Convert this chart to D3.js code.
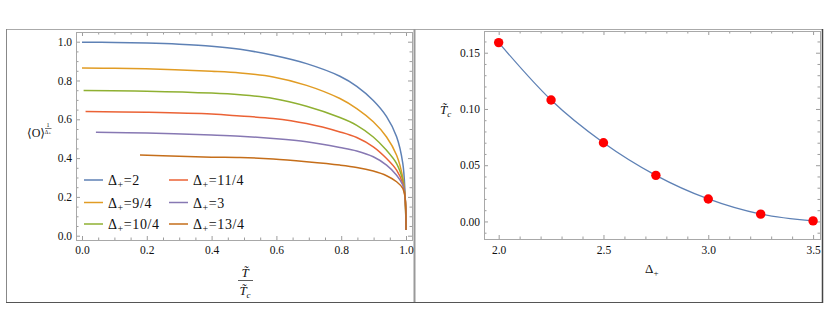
<!DOCTYPE html>
<html>
<head>
<meta charset="utf-8">
<script src="https://cdn.jsdelivr.net/npm/d3@7/dist/d3.min.js"></script>
<style>
  body { margin: 0; background: #fff; }
  svg, svg text { font-family: "Liberation Serif", "Times New Roman", "DejaVu Serif", serif !important; }
</style>
</head>
<body>
<div id="chart"></div>
<script>
// left panel: condensate curves, [T/Tc, <O>^(1/Δ+)]
var seriesNames = ["2", "9/4", "10/4", "11/4", "3", "13/4"];
var seriesColors = ["#5e81b5", "#e19c24", "#8fb032", "#eb6235", "#8778b3", "#c56e1a"];

var curveD2 = [[0,0.997],[0.1,0.996],[0.2,0.993],[0.3,0.987],[0.4,0.977],[0.488,0.961],[0.59,0.930],[0.693,0.887],[0.796,0.822],[0.848,0.770],[0.899,0.697],[0.94,0.614],[0.971,0.510],[0.99,0.374],[0.997,0.22],[1.0,0.03]];
var curveD94 = [[0,0.864],[0.1,0.863],[0.287,0.856],[0.4,0.848],[0.488,0.839],[0.59,0.818],[0.693,0.775],[0.796,0.707],[0.848,0.655],[0.899,0.587],[0.94,0.509],[0.971,0.415],[0.99,0.30],[0.997,0.2],[1.0,0.03]];
var curveD104 = [[0.005,0.748],[0.2,0.745],[0.4,0.735],[0.488,0.726],[0.59,0.707],[0.693,0.667],[0.796,0.609],[0.848,0.569],[0.899,0.509],[0.94,0.44],[0.971,0.372],[0.99,0.286],[0.997,0.2],[1.0,0.03]];
var curveD114 = [[0.011,0.640],[0.2,0.636],[0.4,0.627],[0.488,0.617],[0.59,0.604],[0.693,0.578],[0.796,0.535],[0.848,0.506],[0.899,0.458],[0.94,0.398],[0.971,0.338],[0.99,0.269],[0.997,0.2],[1.0,0.03]];
var curveD3 = [[0.043,0.533],[0.2,0.529],[0.4,0.519],[0.488,0.513],[0.59,0.501],[0.693,0.484],[0.796,0.455],[0.848,0.437],[0.899,0.407],[0.94,0.364],[0.971,0.312],[0.99,0.261],[0.997,0.2],[1.0,0.03]];
var curveD134 = [[0.179,0.416],[0.3,0.41],[0.4,0.405],[0.488,0.403],[0.59,0.395],[0.693,0.381],[0.796,0.364],[0.848,0.352],[0.899,0.333],[0.94,0.309],[0.971,0.278],[0.99,0.244],[0.997,0.2],[1.0,0.03]];
var curves = [curveD2, curveD94, curveD104, curveD114, curveD3, curveD134];

// right panel: critical temperature vs Δ+
var deltas = [2.0, 2.25, 2.5, 2.75, 3.0, 3.25, 3.5];
var tcValues = [0.159, 0.108, 0.070, 0.041, 0.020, 0.0065, 0.0005];

var leftXTicks = [0, 0.2, 0.4, 0.6, 0.8, 1.0];
var leftYTicks = [0, 0.2, 0.4, 0.6, 0.8, 1.0];
var rightXTicks = [2.0, 2.5, 3.0, 3.5];
var rightYTicks = [0, 0.05, 0.10, 0.15];

var W = 830, H = 331;
var svg = d3.select("#chart").append("svg").attr("width", W).attr("height", H);
svg.append("rect").attr("width", W).attr("height", H).attr("fill", "#fff");

// outer frame + divider
svg.append("line").attr("x1", 6).attr("x2", 823).attr("y1", 29.5).attr("y2", 29.5).attr("stroke", "#aaa");
svg.append("line").attr("x1", 6.5).attr("x2", 6.5).attr("y1", 29).attr("y2", 302).attr("stroke", "#888");
svg.append("line").attr("x1", 6).attr("x2", 823).attr("y1", 302.5).attr("y2", 302.5).attr("stroke", "#555");
svg.append("line").attr("x1", 822.5).attr("x2", 822.5).attr("y1", 29).attr("y2", 303).attr("stroke", "#444").attr("stroke-width", 1.5);
svg.append("line").attr("x1", 414.5).attr("x2", 414.5).attr("y1", 29).attr("y2", 302).attr("stroke", "#999").attr("stroke-width", 2);

function minorTicks(lo, hi, step, majorStep) {
    var out = [];
    var n0 = Math.ceil(lo / step - 1e-6), n1 = Math.floor(hi / step + 1e-6);
    for (var i = n0; i <= n1; i++) {
        var v = i * step;
        var r = v / majorStep;
        if (Math.abs(r - Math.round(r)) > 1e-6) out.push(v);
    }
    return out;
}

function drawFrame(g, x, y, o) {
    var x0 = x.range()[0], x1 = x.range()[1], y0 = y.range()[0], y1 = y.range()[1];
    var xd = x.domain(), yd = y.domain();
    var xMin = minorTicks(xd[0], xd[1], o.xMinor, o.xMajor);
    var yMin = minorTicks(yd[0], yd[1], o.yMinor, o.yMajor);

    var axes = [
        [d3.axisBottom(x).tickValues(o.xTicks).tickFormat(o.xFmt).tickSize(-4).tickPadding(o.xPad), "translate(0," + y0 + ")"],
        [d3.axisBottom(x).tickValues(xMin).tickFormat("").tickSize(-2.5), "translate(0," + y0 + ")"],
        [d3.axisTop(x).tickValues(o.xTicks).tickFormat("").tickSize(-4), "translate(0," + y1 + ")"],
        [d3.axisTop(x).tickValues(xMin).tickFormat("").tickSize(-2.5), "translate(0," + y1 + ")"],
        [d3.axisLeft(y).tickValues(o.yTicks).tickFormat(o.yFmt).tickSize(-4).tickPadding(o.yPad), "translate(" + x0 + ",0)"],
        [d3.axisLeft(y).tickValues(yMin).tickFormat("").tickSize(-2.5), "translate(" + x0 + ",0)"],
        [d3.axisRight(y).tickValues(o.yTicks).tickFormat("").tickSize(-4), "translate(" + x1 + ",0)"],
        [d3.axisRight(y).tickValues(yMin).tickFormat("").tickSize(-2.5), "translate(" + x1 + ",0)"]
    ];
    axes.forEach(function (a) {
        var ax = g.append("g").attr("transform", a[1]).call(a[0]);
        ax.attr("font-family", null).attr("font-size", null);
        ax.select(".domain").remove();
        ax.selectAll(".tick line").attr("stroke", "#9c9c9c");
        ax.selectAll(".tick text").attr("fill", "#111").style("font-size", "11.5px")
            .attr("font-family", "Liberation Serif");
    });
    g.append("rect").attr("x", x0 + 0.5).attr("y", y1 + 0.5)
        .attr("width", x1 - x0).attr("height", y0 - y1)
        .attr("fill", "none").attr("stroke", "#a8a8a8");
}

// ---------- left panel ----------
var xL = d3.scaleLinear().domain([-0.0185, 1.0185]).range([76, 412]);
var yL = d3.scaleLinear().domain([-0.0222, 1.05]).range([240, 32]);
var left = svg.append("g");

curves.forEach(function (c, i) {
    left.append("path").datum(c).attr("d", d3.line()
            .x(function (d) { return xL(d[0]); }).y(function (d) { return yL(d[1]); })
            .curve(d3.curveCatmullRom.alpha(0.5)))
        .attr("fill", "none").attr("stroke", seriesColors[i]).attr("stroke-width", 1.5);
});

drawFrame(left, xL, yL, {
    xTicks: leftXTicks, yTicks: leftYTicks, xMajor: 0.2, xMinor: 0.05, yMajor: 0.2, yMinor: 0.05,
    xFmt: d3.format(".1f"), yFmt: d3.format(".1f"), xPad: 6, yPad: 4
});

// legend
var legCols = [84, 169], legRows = [180, 202.5, 224];
seriesNames.forEach(function (name, i) {
    var cx = legCols[Math.floor(i / 3)], cy = legRows[i % 3];
    left.append("line").attr("x1", cx).attr("x2", cx + 19).attr("y1", cy).attr("y2", cy)
        .attr("stroke", seriesColors[i]).attr("stroke-width", 1.5);
    var t = left.append("text").attr("x", cx + 24).attr("y", cy + 5)
        .style("font-size", "14px").style("letter-spacing", "0.6px").attr("fill", "#111");
    t.append("tspan").text("Δ");
    t.append("tspan").style("font-size", "10px").attr("dy", 3).text("+");
    t.append("tspan").attr("dy", -3).text("=" + name);
});

// y label <O>^(1/Δ+)
left.append("text").attr("x", 27).attr("y", 137).style("font-size", "12px").attr("fill", "#111").text("⟨O⟩");
left.append("text").attr("x", 48).attr("y", 127).style("font-size", "6px").attr("text-anchor", "middle").attr("fill", "#111").text("1");
left.append("line").attr("x1", 45).attr("x2", 51.5).attr("y1", 128.5).attr("y2", 128.5).attr("stroke", "#222").attr("stroke-width", 0.6);
left.append("text").attr("x", 48).attr("y", 134).style("font-size", "5.5px").attr("text-anchor", "middle").attr("fill", "#111").text("Δ₊");

// x label T/Tc
left.append("text").attr("x", 245).attr("y", 277).attr("text-anchor", "middle")
    .style("font-size", "13px").attr("font-style", "italic").attr("fill", "#111").text("T̃");
left.append("line").attr("x1", 238).attr("x2", 253).attr("y1", 280.5).attr("y2", 280.5).attr("stroke", "#333").attr("stroke-width", 0.8);
var den = left.append("text").attr("x", 245).attr("y", 295).attr("text-anchor", "middle")
    .style("font-size", "13px").attr("font-style", "italic").attr("fill", "#111");
den.append("tspan").text("T̃");
den.append("tspan").style("font-size", "9px").attr("dy", 2.5).text("c");

// ---------- right panel ----------
var xR = d3.scaleLinear().domain([1.930, 3.533]).range([484, 820]);
var yR = d3.scaleLinear().domain([-0.0156, 0.1693]).range([239, 31]);
var right = svg.append("g");

var tcData = deltas.map(function (d, i) { return [d, tcValues[i]]; });
right.append("path").datum(tcData)
    .attr("d", d3.line().x(function (d) { return xR(d[0]); }).y(function (d) { return yR(d[1]); })
        .curve(d3.curveMonotoneX))
    .attr("fill", "none").attr("stroke", "#5e81b5").attr("stroke-width", 1.3);

drawFrame(right, xR, yR, {
    xTicks: rightXTicks, yTicks: rightYTicks, xMajor: 0.5, xMinor: 0.1, yMajor: 0.05, yMinor: 0.01,
    xFmt: d3.format(".1f"), yFmt: d3.format(".2f"), xPad: 7, yPad: 4
});

right.selectAll("circle.pt").data(tcData).enter().append("circle")
    .attr("class", "pt")
    .attr("cx", function (d) { return xR(d[0]); })
    .attr("cy", function (d) { return yR(d[1]); })
    .attr("r", 4.7).attr("fill", "#ff0000");

// y label Tc
var ty = right.append("text").attr("x", 440).attr("y", 114)
    .style("font-size", "13px").attr("font-style", "italic").attr("fill", "#111");
ty.append("tspan").text("T̃");
ty.append("tspan").style("font-size", "9px").attr("dy", 2.5).text("c");

// x label Δ+
var tx = right.append("text").attr("x", 645).attr("y", 273)
    .style("font-size", "13px").attr("fill", "#111");
tx.append("tspan").text("Δ");
tx.append("tspan").style("font-size", "9px").attr("dy", 3).text("+");
</script>
</body>
</html>
